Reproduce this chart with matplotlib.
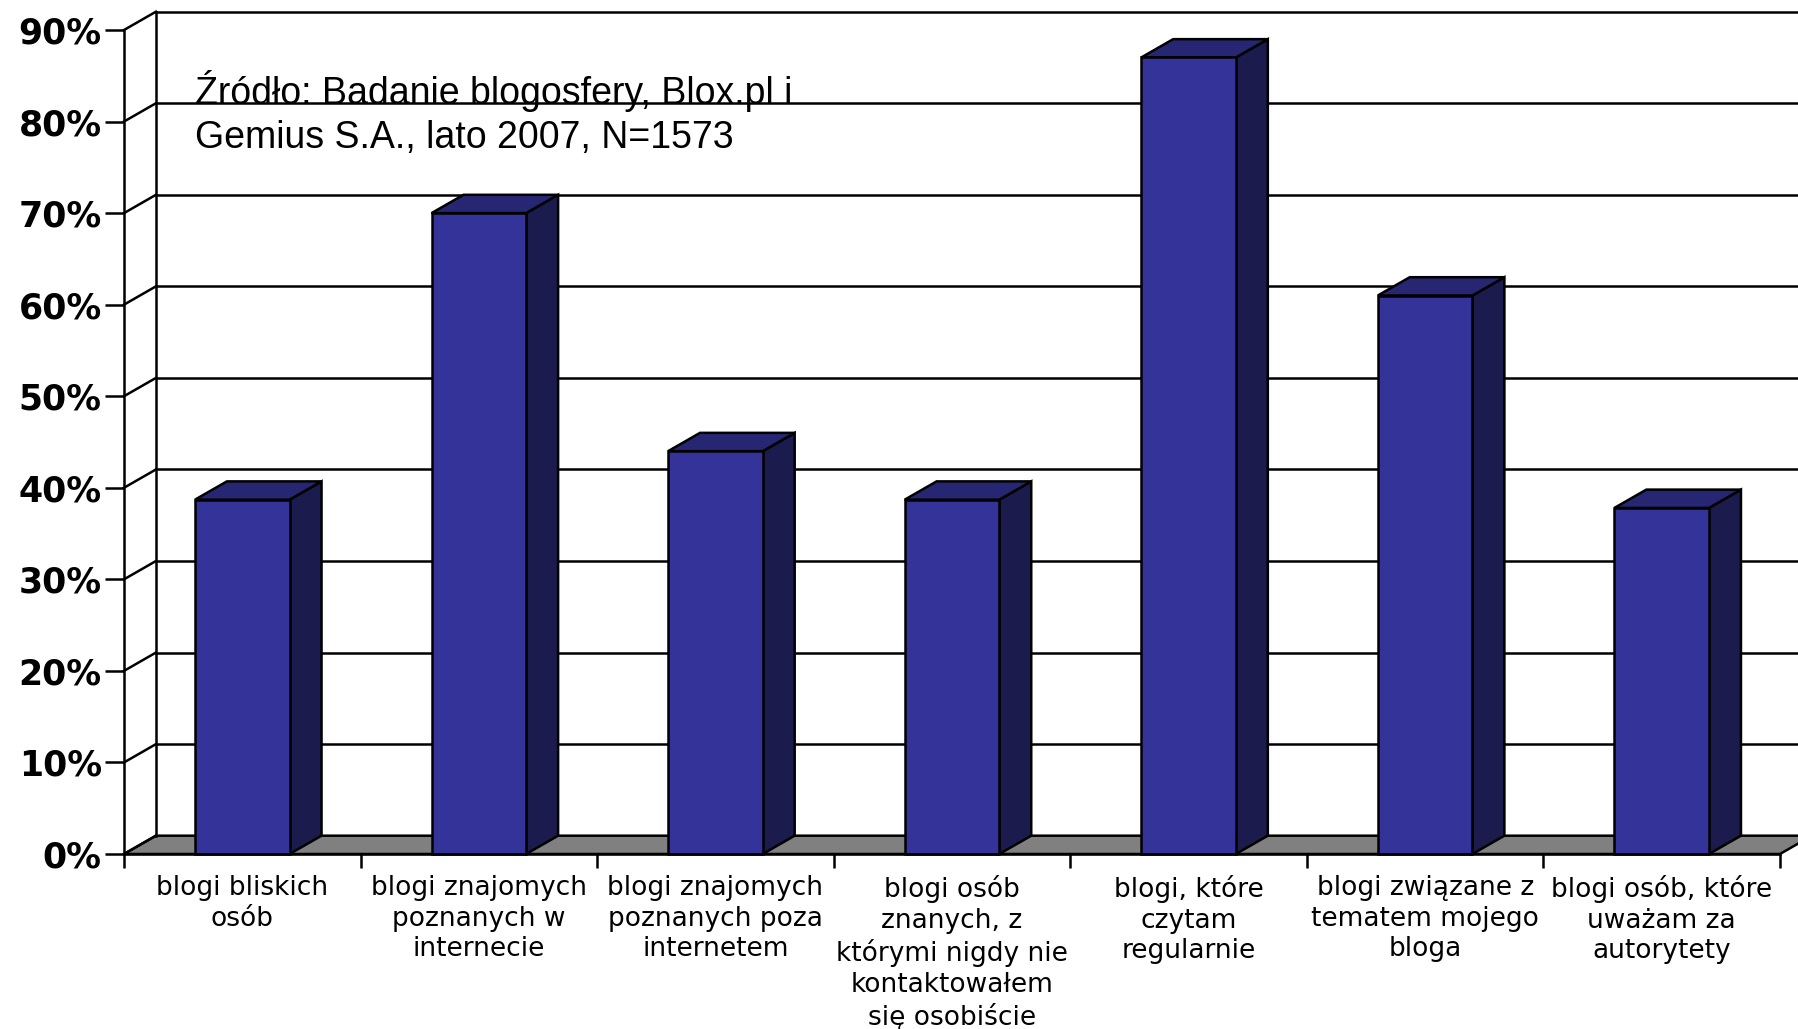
import matplotlib
matplotlib.use('Agg')
import matplotlib.pyplot as plt
from matplotlib.patches import Polygon

# Dane
categories = [
    'blogi bliskich\nosób',
    'blogi znajomych\npoznanych w\ninternecie',
    'blogi znajomych\npoznanych poza\ninternetem',
    'blogi osób\nznanych, z\nktórymi nigdy nie\nkontaktowałem\nsię osobiście',
    'blogi, które\nczytam\nregularnie',
    'blogi związane z\ntematem mojego\nbloga',
    'blogi osób, które\nuważam za\nautorytety',
]
values = [38.7, 70, 44, 38.7, 87, 61, 37.8]
y_ticks = [0, 10, 20, 30, 40, 50, 60, 70, 80, 90]
y_labels = ['0%', '10%', '20%', '30%', '40%', '50%', '60%', '70%', '80%', '90%']
source = 'Źródło: Badanie blogosfery, Blox.pl i\nGemius S.A., lato 2007, N=1573'

W, H = 1798, 1029
DX = 0.135   # głębokość 3D w jednostkach kategorii
DY = 2.0     # głębokość 3D w procentach
LW = 1.8

fig = plt.figure(figsize=(W / 100, H / 100), dpi=100, facecolor='white')
ax = fig.add_axes([124 / W, (H - 854) / H, 1656 / W, 824 / H])
ax.set_xlim(0, len(categories))
ax.set_ylim(0, 90)
ax.patch.set_visible(False)

for side in ('top', 'right'):
    ax.spines[side].set_visible(False)
for side in ('left', 'bottom'):
    ax.spines[side].set_linewidth(LW)
    ax.spines[side].set_zorder(6)

# Podłoga
n = len(categories)
ax.add_patch(Polygon([(0, 0), (n, 0), (n + DX, DY), (DX, DY)], closed=True,
                     facecolor='#808080', edgecolor='black', lw=LW, clip_on=False, zorder=1))

# Ściana i siatka
ax.plot([DX, DX], [DY, 90 + DY], color='black', lw=LW, clip_on=False, zorder=2)
for t in y_ticks:
    ax.plot([0, DX], [t, t + DY], color='black', lw=LW, clip_on=False, zorder=2)
    if t > 0:
        ax.plot([DX, n + DX], [t + DY, t + DY], color='black', lw=LW, clip_on=False, zorder=2)

# Słupki
positions = [i + 0.5 for i in range(n)]
BAR_W = 0.40
ax.bar(positions, values, width=BAR_W, color='#333399', edgecolor='black',
       linewidth=LW, zorder=4, clip_on=False)
for x, v in zip(positions, values):
    l, r = x - BAR_W / 2, x + BAR_W / 2
    ax.add_patch(Polygon([(r, 0), (r + DX, DY), (r + DX, v + DY), (r, v)], closed=True,
                         facecolor='#1b1b4d', edgecolor='black', lw=LW, clip_on=False, zorder=3))
    ax.add_patch(Polygon([(l, v), (r, v), (r + DX, v + DY), (l + DX, v + DY)], closed=True,
                         facecolor='#262673', edgecolor='black', lw=LW, clip_on=False, zorder=3))

# Osie
ax.set_yticks(y_ticks)
ax.set_yticklabels(y_labels, fontsize=25, fontweight='bold', family='DejaVu Sans')
ax.tick_params(axis='y', length=14, width=LW, pad=2)
ax.set_xticks(range(n + 1))
ax.set_xticklabels([])
ax.tick_params(axis='x', which='major', length=10, width=LW)
ax.set_xticks(positions, minor=True)
ax.set_xticklabels(categories, minor=True, fontsize=19, family='DejaVu Sans', linespacing=1.24)
ax.tick_params(axis='x', which='minor', length=0, pad=15)

fig.text(195 / W, 1 - 70 / H, source, family='Liberation Sans', fontsize=27,
         va='top', ha='left', color='black', linespacing=1.3, zorder=10)

fig.savefig('out.png', dpi=100, facecolor='white')
